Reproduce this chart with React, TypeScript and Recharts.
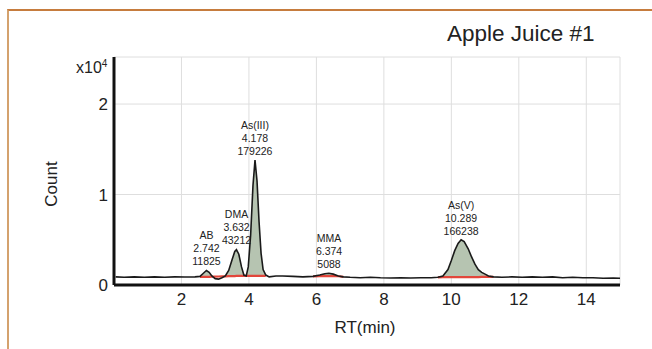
import React from 'react';
import {
  ComposedChart,
  Line,
  Area,
  Scatter,
  XAxis,
  YAxis,
  CartesianGrid,
} from 'recharts';

// chromatogram trace: [retention time (min), count (x10^4)]
const trace: [number, number][] = [
  [0.05, 0.09], [0.3, 0.085], [0.6, 0.09], [0.9, 0.085], [1.2, 0.09],
  [1.5, 0.085], [1.8, 0.09], [2.1, 0.088], [2.4, 0.09], [2.55, 0.095],
  [2.65, 0.13], [2.74, 0.16], [2.82, 0.14], [2.9, 0.1], [3.0, 0.07],
  [3.1, 0.065], [3.2, 0.08], [3.3, 0.1], [3.4, 0.16], [3.5, 0.28],
  [3.58, 0.37], [3.63, 0.39], [3.7, 0.34], [3.78, 0.2], [3.85, 0.11],
  [3.92, 0.1], [3.98, 0.2], [4.05, 0.55], [4.12, 1.1], [4.18, 1.38],
  [4.24, 1.15], [4.3, 0.7], [4.36, 0.35], [4.42, 0.17], [4.5, 0.11],
  [4.6, 0.09], [4.8, 0.1], [5.0, 0.1], [5.3, 0.095], [5.6, 0.09],
  [5.9, 0.095], [6.1, 0.11], [6.25, 0.125], [6.37, 0.13], [6.5, 0.12],
  [6.65, 0.1], [6.8, 0.09], [7.0, 0.085], [7.3, 0.08], [7.6, 0.085],
  [7.9, 0.08], [8.2, 0.078], [8.5, 0.08], [8.8, 0.078], [9.1, 0.08],
  [9.4, 0.08], [9.6, 0.085], [9.75, 0.1], [9.9, 0.17], [10.0, 0.27],
  [10.1, 0.38], [10.2, 0.46], [10.29, 0.5], [10.38, 0.48], [10.5, 0.4],
  [10.6, 0.31], [10.7, 0.23], [10.8, 0.17], [10.9, 0.14], [11.0, 0.12],
  [11.1, 0.1], [11.25, 0.09], [11.5, 0.085], [11.8, 0.09], [12.1, 0.085],
  [12.4, 0.09], [12.7, 0.085], [13.0, 0.09], [13.3, 0.08], [13.6, 0.085],
  [13.9, 0.08], [14.2, 0.08], [14.5, 0.075], [14.8, 0.078], [15.0, 0.075],
];

// integration baseline (red) under the peaks: [time, count]
const peakBaseline: [number, number][] = [
  [2.55, 0.09], [2.65, 0.09], [2.74, 0.09], [2.82, 0.09], [2.9, 0.092],
  [3.0, 0.092], [3.1, 0.094], [3.2, 0.095], [3.3, 0.096], [3.4, 0.097],
  [3.5, 0.098], [3.58, 0.099], [3.63, 0.1], [3.7, 0.1], [3.78, 0.1],
  [3.85, 0.1], [3.92, 0.1], [3.98, 0.1], [4.05, 0.1], [4.12, 0.1],
  [4.18, 0.1], [4.24, 0.1], [4.3, 0.1], [4.36, 0.1], [4.42, 0.1], [4.5, 0.1],
  [5.9, 0.095], [6.1, 0.097], [6.25, 0.098], [6.37, 0.098], [6.5, 0.098],
  [6.65, 0.097], [6.8, 0.09],
  [9.6, 0.085], [9.75, 0.086], [9.9, 0.086], [10.0, 0.087], [10.1, 0.087],
  [10.2, 0.087], [10.29, 0.087], [10.38, 0.087], [10.5, 0.088], [10.6, 0.088],
  [10.7, 0.088], [10.8, 0.088], [10.9, 0.089], [11.0, 0.089], [11.1, 0.089],
  [11.25, 0.09],
];

// labelled peaks
const peakNames = ['AB', 'DMA', 'As(III)', 'MMA', 'As(V)'];
const peakRt = [2.742, 3.632, 4.178, 6.374, 10.289];
const peakArea = [11825, 43212, 179226, 5088, 166238];
const peakTop = [0.16, 0.39, 1.38, 0.13, 0.5];

const xTicks = [2, 4, 6, 8, 10, 12, 14];
const yTicks = [0, 1, 2];

const baseMap = new Map(peakBaseline.map(([t, b]) => [t, b]));
const data = trace.map(([t, y]) => {
  const base = baseMap.has(t) ? (baseMap.get(t) as number) : null;
  return {
    t,
    y,
    base,
    band: base !== null && y >= base ? [base, y] : null,
  };
});

const peaks = peakNames.map((name, i) => ({
  name,
  t: peakRt[i],
  y: peakTop[i],
  area: peakArea[i],
}));

const font = '"Liberation Sans", Arial, sans-serif';

const PeakLabel = (props: any) => {
  const { cx, cy, payload } = props;
  if (cx == null || cy == null) return null;
  const lines = [payload.name, payload.t.toFixed(3), String(payload.area)];
  return (
    <g>
      {lines.map((s, i) => (
        <text
          key={i}
          x={cx}
          y={cy - 9 - (2 - i) * 13}
          dy="0.36em"
          textAnchor="middle"
          fontSize={10.5}
          fontFamily={font}
          fill="#222"
        >
          {s}
        </text>
      ))}
    </g>
  );
};

export default function App() {
  return (
    <div
      style={{
        position: 'absolute',
        left: 0,
        top: 0,
        width: 652,
        height: 349,
        overflow: 'hidden',
        background: '#fff',
        fontFamily: font,
        color: '#222',
      }}
    >
      <div
        style={{
          position: 'absolute',
          left: 7,
          top: 9,
          width: 660,
          height: 360,
          borderTop: '2px solid #c67c3e',
          borderLeft: '2px solid #d4a26e',
        }}
      />
      <ComposedChart
        width={652}
        height={349}
        data={data}
        margin={{ top: 57, right: 32, left: 54, bottom: 24 }}
      >
        <CartesianGrid stroke="#dedede" />
        <XAxis
          dataKey="t"
          type="number"
          domain={[0, 15]}
          ticks={xTicks}
          height={40}
          tickLine={false}
          axisLine={{ stroke: '#111', strokeWidth: 3 }}
          tick={{ fill: '#222', fontSize: 17, fontFamily: font }}
        />
        <YAxis
          type="number"
          domain={[0, 2.52]}
          ticks={yTicks}
          width={60}
          tickLine={false}
          tickMargin={0}
          axisLine={{ stroke: '#111', strokeWidth: 3 }}
          tick={{ fill: '#222', fontSize: 17, fontFamily: font }}
        />
        <Area
          dataKey="band"
          type="linear"
          fill="#b6c4b1"
          fillOpacity={1}
          stroke="none"
          isAnimationActive={false}
          connectNulls={false}
        />
        <Line
          dataKey="base"
          type="linear"
          stroke="#e2463b"
          strokeWidth={2.2}
          dot={false}
          isAnimationActive={false}
          connectNulls={false}
        />
        <Line
          dataKey="y"
          type="linear"
          stroke="#1a1a1a"
          strokeWidth={1.6}
          dot={false}
          isAnimationActive={false}
        />
        <Scatter
          data={peaks}
          dataKey="y"
          shape={PeakLabel}
          isAnimationActive={false}
        />
      </ComposedChart>
      <div
        style={{
          position: 'absolute',
          left: 447,
          top: 23,
          fontSize: 22.5,
          lineHeight: 1,
          whiteSpace: 'nowrap',
        }}
      >
        Apple Juice #1
      </div>
      <div
        style={{
          position: 'absolute',
          left: 76,
          top: 59,
          fontSize: 16,
          lineHeight: 1,
          whiteSpace: 'nowrap',
        }}
      >
        x10<sup style={{ fontSize: 10 }}>4</sup>
      </div>
      <div
        style={{
          position: 'absolute',
          left: 51,
          top: 184,
          fontSize: 17,
          lineHeight: 1,
          whiteSpace: 'nowrap',
          transform: 'translate(-50%, -50%) rotate(-90deg)',
        }}
      >
        Count
      </div>
      <div
        style={{
          position: 'absolute',
          left: 365,
          top: 319,
          fontSize: 17,
          lineHeight: 1,
          whiteSpace: 'nowrap',
          transform: 'translateX(-50%)',
        }}
      >
        RT(min)
      </div>
    </div>
  );
}
